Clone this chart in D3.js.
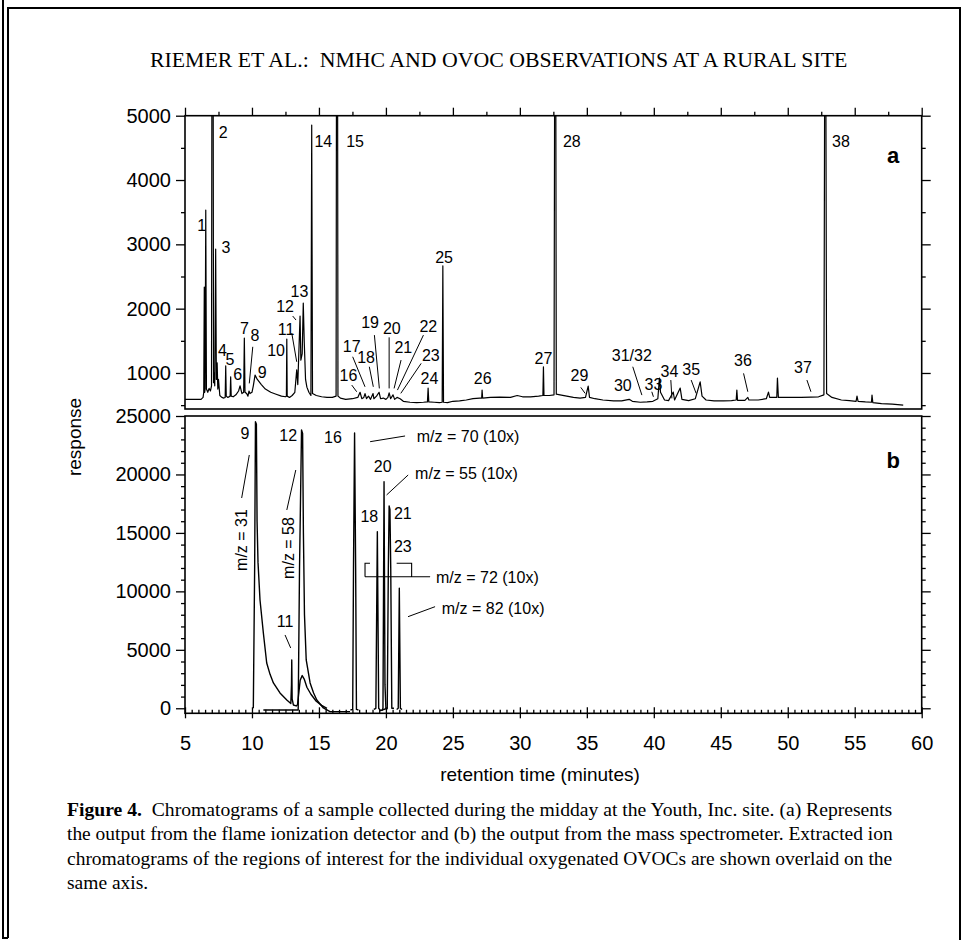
<!DOCTYPE html>
<html>
<head>
<meta charset="utf-8">
<script src="https://cdn.jsdelivr.net/npm/d3@7"></script>
<style>
    body { margin: 0; background: #fff; }
    svg { display: block; }
    .tick text { font-family: "Liberation Sans", Arial, Helvetica, sans-serif; font-size: 20px; fill: #000; }
    .sans { font-family: "Liberation Sans", Arial, Helvetica, sans-serif; fill: #000; }
    .serif { font-family: "Liberation Serif", "Times New Roman", serif; fill: #000; }
</style>
</head>
<body>
<div class="chart"></div>
<script>
// ---- data ----
const xTicks = [5, 10, 15, 20, 25, 30, 35, 40, 45, 50, 55, 60]
const yTicksA = [1000, 2000, 3000, 4000, 5000]
const yTicksB = [0, 5000, 10000, 15000, 20000, 25000]

// (a) flame ionization detector trace: [retention time, response]
const fidTrace = [
    [5.0, 590], [6.2, 590], [6.35, 620], [6.4, 700], [6.44, 2336], [6.47, 700], [6.5, 750], [6.55, 3533], [6.6, 750],
    [6.7, 700], [6.8, 760], [6.9, 720], [6.98, 800], [7.01, 6000], [7.1, 6000], [7.13, 850], [7.18, 1000], [7.22, 800],
    [7.29, 2927], [7.34, 900], [7.4, 1157], [7.45, 750], [7.5, 900], [7.6, 650], [7.75, 620], [7.9, 610], [8.0, 620],
    [8.04, 1110], [8.08, 640], [8.2, 620], [8.37, 640], [8.41, 940], [8.45, 640], [8.6, 630], [8.8, 660], [9.0, 720],
    [9.11, 800], [9.25, 680], [9.38, 700], [9.43, 1543], [9.48, 700], [9.6, 680], [9.7, 640], [9.78, 720], [9.85, 680],
    [10.0, 700], [10.1, 800], [10.23, 967], [10.4, 900], [10.7, 820], [11.0, 750], [11.4, 700], [11.8, 670], [12.2, 640],
    [12.5, 630], [12.57, 640], [12.6, 1527], [12.63, 640], [12.8, 620], [13.0, 650], [13.2, 700], [13.34, 1050],
    [13.42, 820], [13.59, 1885], [13.65, 1200], [13.75, 1300], [13.83, 2087], [13.9, 1500], [14.0, 900], [14.1, 780],
    [14.25, 700], [14.4, 650], [14.46, 4855], [14.52, 680], [14.8, 650], [15.2, 630], [15.6, 620], [16.0, 620],
    [16.28, 640], [16.31, 6000], [16.39, 6000], [16.42, 640], [16.6, 610], [17.0, 590], [17.5, 600], [17.9, 620],
    [18.07, 700], [18.2, 600], [18.35, 620], [18.44, 680], [18.55, 600], [18.7, 640], [18.85, 590], [19.04, 680],
    [19.1, 600], [19.3, 640], [19.49, 700], [19.6, 600], [19.8, 610], [20.0, 590], [20.15, 620], [20.24, 690],
    [20.35, 600], [20.53, 660], [20.65, 590], [20.83, 620], [21.06, 600], [21.3, 560], [21.8, 545], [22.3, 540],
    [22.8, 545], [23.1, 550], [23.15, 765], [23.2, 550], [23.6, 545], [24.0, 540], [24.2, 545], [24.25, 2667],
    [24.3, 545], [24.6, 540], [25.0, 560], [25.5, 565], [26.0, 580], [26.5, 600], [27.0, 610], [27.15, 610],
    [27.18, 734], [27.22, 610], [27.8, 620], [28.5, 625], [29.3, 620], [29.8, 650], [30.2, 630], [30.8, 630],
    [31.4, 640], [31.72, 650], [31.76, 1097], [31.8, 650], [32.2, 650], [32.55, 660], [32.6, 6000], [32.68, 6000],
    [32.72, 670], [33.0, 660], [33.5, 640], [34.0, 620], [34.5, 610], [34.9, 620], [35.1, 796], [35.2, 620],
    [35.6, 600], [36.2, 580], [37.0, 565], [37.6, 565], [38.16, 590], [38.4, 560], [39.0, 545], [39.5, 550],
    [39.93, 560], [40.3, 600], [40.42, 921], [40.5, 700], [40.8, 580], [41.1, 570], [41.45, 703], [41.55, 580],
    [41.97, 765], [42.1, 590], [42.6, 570], [43.1, 600], [43.46, 863], [43.6, 640], [43.9, 580], [44.5, 565],
    [45.2, 565], [45.8, 570], [46.15, 580], [46.2, 734], [46.25, 575], [46.8, 575], [47.02, 620], [47.1, 580],
    [47.8, 580], [48.4, 600], [48.56, 703], [48.65, 620], [49.18, 620], [49.23, 921], [49.3, 620], [50.0, 620],
    [51.0, 620], [51.73, 625], [52.3, 630], [52.7, 660], [52.76, 6000], [52.84, 6000], [52.9, 680], [53.3, 620],
    [54.0, 580], [54.6, 570], [55.1, 560], [55.17, 640], [55.25, 560], [55.8, 550], [56.25, 545], [56.29, 656],
    [56.35, 540], [57.0, 525], [57.8, 515], [58.62, 500]
]

// (b) extracted ion chromatograms
const mz31 = [
    [10.1, 0], [10.2, 12000], [10.26, 24513], [10.33, 24300], [10.38, 16000], [10.45, 12500], [10.6, 9263], [10.85, 6440],
    [11.1, 3875], [11.35, 2900], [11.6, 2164], [12.09, 1309], [12.6, 710], [12.9, 400], [12.95, 2000], [12.97, 4131],
    [13.0, 800], [13.09, 282], [13.3, 200], [13.4, 300], [13.6, 2400], [13.75, 2800], [13.9, 2500], [14.1, 1800],
    [14.4, 1200], [14.8, 600], [15.2, 250], [15.6, 0]
]
const mz58 = [
    [10.85, -145], [13.45, -145], [13.55, 12000], [13.7, 23800], [13.78, 23500], [13.84, 15000], [13.92, 8000],
    [14.05, 4131], [14.34, 2164], [14.6, 1300], [14.84, 710], [15.33, 26], [15.83, -290], [17.32, -290]
]
const mz70 = [[17.35, -145], [17.52, -100], [17.58, 12000], [17.66, 23546], [17.74, 12000], [17.8, -100], [17.95, -145]]
const mz55 = [[19.7, -200], [19.78, 0], [19.86, 19381], [19.93, 2000], [20.0, 0], [20.1, -100]]
const mz72 = [
    [19.1, -100], [19.25, 0], [19.36, 15104], [19.46, 0], [19.6, -200], [20.1, 0], [20.18, 12000], [20.24, 17303],
    [20.3, 17000], [20.36, 12000], [20.44, 0], [20.6, 0]
]
const mz82 = [[20.8, -100], [20.92, 0], [21.0, 10263], [21.08, 0], [21.2, -100]]

// peak numbers: [label, time, response]
const peakLabelsA = [
    ['1', 6.25, 3300], ['2', 7.86, 4750], ['3', 8.06, 2960], ['4', 7.79, 1356], ['5', 8.36, 1216], ['6', 8.94, 983],
    ['7', 9.43, 1703], ['8', 10.23, 1589], ['9', 10.77, 1019], ['10', 11.8, 1356], ['11', 12.54, 1683],
    ['12', 12.47, 2030], ['13', 13.54, 2278], ['14', 15.33, 4596], ['15', 17.7, 4596], ['16', 17.2, 967],
    ['17', 17.45, 1418], ['18', 18.52, 1252], ['19', 18.82, 1796], ['20', 20.44, 1703], ['21', 21.3, 1407],
    ['22', 23.17, 1729], ['23', 23.35, 1278], ['24', 23.25, 916], ['25', 24.34, 2807], ['26', 27.23, 925],
    ['27', 31.76, 1227], ['28', 33.88, 4607], ['29', 34.45, 967], ['30', 37.69, 812], ['31/32', 38.36, 1278],
    ['33', 39.97, 827], ['34', 41.17, 1034], ['35', 42.79, 1056], ['36', 46.65, 1201], ['37', 51.13, 1096],
    ['38', 53.97, 4607]
]
// leader lines: [t1, v1, t2, v2]
const leadersA = [
    [10.06, 1407, 9.8, 838], [12.97, 1621, 13.34, 1174], [13.04, 1885, 13.29, 1823], [17.45, 812, 17.82, 708],
    [17.52, 1252, 18.44, 785], [18.76, 1097, 19.06, 785], [19.14, 1589, 19.51, 760], [20.24, 1554, 20.24, 760],
    [21.13, 1201, 20.61, 760], [22.8, 1589, 20.86, 734], [22.63, 1149, 21.11, 683], [34.55, 776, 34.87, 683],
    [38.43, 1097, 39.11, 656], [39.85, 708, 39.97, 630], [41.27, 890, 41.35, 605], [42.79, 890, 43.16, 683],
    [46.7, 994, 47.02, 708], [51.43, 890, 51.73, 708]
]
const peakLabelsB = [
    ['9', 9.48, 23547], ['12', 12.71, 23376], ['16', 16.05, 23205], ['20', 19.76, 20664], ['18', 18.76, 16388],
    ['21', 21.26, 16678], ['23', 21.26, 13822], ['11', 12.47, 7407]
]
const ionLabelsB = [
    ['m/z = 70 (10x)', 22.3, 23290], ['m/z = 55 (10x)', 22.18, 20125],
    ['m/z = 72 (10x)', 23.74, 11230], ['m/z = 82 (10x)', 24.17, 8579]
]
const ionLabelsVertical = [['m/z = 31', 9.23, 14394], ['m/z = 58', 12.71, 13710]]
const leadersB = [
    [18.82, 22803, 21.43, 23290], [20.05, 18244, 21.66, 19955], [21.65, 7835, 23.67, 8690],
    [9.23, 17987, 9.8, 21665], [12.6, 16960, 13.27, 20381], [12.47, 6269, 12.89, 5157]
]
// m/z = 72 bracket: left edge, left cap end, right cap start, right edge, leader end; cap level, line level
const bracket72 = { t: [18.44, 18.81, 20.8, 21.92, 23.3], v: [12402, 11256] }

const panelTags = [['a', 57.87, 4389], ['b', 57.87, 21237]]

const title = 'RIEMER ET AL.:  NMHC AND OVOC OBSERVATIONS AT A RURAL SITE'
const captionLines = [
    'Chromatograms of a sample collected during the midday at the Youth, Inc. site. (a) Represents',
    'the output from the flame ionization detector and (b) the output from the mass spectrometer. Extracted ion',
    'chromatograms of the regions of interest for the individual oxygenated OVOCs are shown overlaid on the',
    'same axis.'
]

// ---- drawing ----
const W = 965, H = 940
const svg = d3.select('.chart').append('svg').attr('width', W).attr('height', H)
svg.append('rect').attr('width', W).attr('height', H).attr('fill', '#fff')

// page frame
svg.append('path')
    .attr('d', 'M3,0V938H8 M8,938V8H960V940')
    .attr('fill', 'none').attr('stroke', '#000').attr('stroke-width', 2)

const x = d3.scaleLinear().domain([5, 60]).range([185, 921.7])
const yA = d3.scaleLinear().domain([440, 5000]).range([409, 115.7])
const yB = d3.scaleLinear().domain([-430, 25000]).range([713.3, 416])

const defs = svg.append('defs')
defs.append('clipPath').attr('id', 'clipA').append('rect')
    .attr('x', x(5)).attr('y', yA(5000)).attr('width', x(60) - x(5)).attr('height', yA(440) - yA(5000))
defs.append('clipPath').attr('id', 'clipB').append('rect')
    .attr('x', x(5)).attr('y', yB(25000)).attr('width', x(60) - x(5)).attr('height', yB(-430) - yB(25000))

function styleAxis(g) {
    g.select('.domain').remove()
    g.selectAll('line').attr('stroke', '#000').attr('stroke-width', 1.3)
}
function addAxis(transform, gen) {
    svg.append('g').attr('transform', transform).call(gen).call(styleAxis)
}
const minorA = d3.range(500, 5000, 1000)
const minorB = d3.range(1000, 25000, 1000).filter(v => v % 5000 !== 0)
const minorTop = d3.range(7.5, 60, 5)
const minorBottom = d3.range(5, 60.01, 0.5).filter(v => v % 5 !== 0)

// panel a axes
addAxis(`translate(${x(5)},0)`, d3.axisLeft(yA).tickValues(yTicksA).tickSize(9).tickPadding(5).tickFormat(d3.format('d')))
addAxis(`translate(${x(5)},0)`, d3.axisLeft(yA).tickValues(minorA).tickSize(4).tickFormat(''))
addAxis(`translate(${x(60)},0)`, d3.axisRight(yA).tickValues(yTicksA).tickSize(9).tickFormat(''))
addAxis(`translate(${x(60)},0)`, d3.axisRight(yA).tickValues(minorA).tickSize(4).tickFormat(''))
addAxis(`translate(0,${yA(5000)})`, d3.axisTop(x).tickValues(xTicks).tickSize(8).tickFormat(''))
addAxis(`translate(0,${yA(5000)})`, d3.axisTop(x).tickValues(minorTop).tickSize(4).tickFormat(''))

// panel b axes
addAxis(`translate(${x(5)},0)`, d3.axisLeft(yB).tickValues(yTicksB).tickSize(9).tickPadding(5).tickFormat(d3.format('d')))
addAxis(`translate(${x(5)},0)`, d3.axisLeft(yB).tickValues(minorB).tickSize(4).tickFormat(''))
addAxis(`translate(${x(60)},0)`, d3.axisRight(yB).tickValues(yTicksB).tickSize(9).tickFormat(''))
addAxis(`translate(${x(60)},0)`, d3.axisRight(yB).tickValues(minorB).tickSize(4).tickFormat(''))
addAxis(`translate(0,${yB(-430)})`, d3.axisBottom(x).tickValues(xTicks).tickSize(5).tickPadding(18).tickFormat(d3.format('d')))
addAxis(`translate(0,${yB(-430)})`, d3.axisBottom(x).tickValues(xTicks).tickSize(-6).tickFormat(''))
addAxis(`translate(0,${yB(-430)})`, d3.axisBottom(x).tickValues(minorBottom).tickSize(-3.5).tickFormat(''))

// panel frames
svg.append('rect').attr('x', x(5)).attr('y', yA(5000)).attr('width', x(60) - x(5)).attr('height', yA(440) - yA(5000))
    .attr('fill', 'none').attr('stroke', '#000').attr('stroke-width', 1.6)
svg.append('rect').attr('x', x(5)).attr('y', yB(25000)).attr('width', x(60) - x(5)).attr('height', yB(-430) - yB(25000))
    .attr('fill', 'none').attr('stroke', '#000').attr('stroke-width', 1.6)

// traces
const lineA = d3.line().x(d => x(d[0])).y(d => yA(d[1]))
const lineB = d3.line().x(d => x(d[0])).y(d => yB(d[1]))
svg.append('g').attr('clip-path', 'url(#clipA)').append('path')
    .attr('d', lineA(fidTrace)).attr('fill', 'none').attr('stroke', '#000').attr('stroke-width', 1.2)
    .attr('stroke-linejoin', 'round')
const gB = svg.append('g').attr('clip-path', 'url(#clipB)')
gB.selectAll('path').data([mz31, mz58, mz70, mz55, mz72, mz82]).enter().append('path')
    .attr('d', d => lineB(d)).attr('fill', 'none').attr('stroke', '#000').attr('stroke-width', 1.4)
    .attr('stroke-linejoin', 'round')

// annotations panel a
svg.append('g').selectAll('line').data(leadersA).enter().append('line')
    .attr('x1', d => x(d[0])).attr('y1', d => yA(d[1])).attr('x2', d => x(d[2])).attr('y2', d => yA(d[3]))
    .attr('stroke', '#000').attr('stroke-width', 1)
svg.append('g').selectAll('text').data(peakLabelsA).enter().append('text')
    .attr('class', 'sans').attr('font-size', 16).attr('text-anchor', 'middle').attr('dy', '0.36em')
    .attr('x', d => x(d[1])).attr('y', d => yA(d[2])).text(d => d[0])

// annotations panel b
svg.append('g').selectAll('line').data(leadersB).enter().append('line')
    .attr('x1', d => x(d[0])).attr('y1', d => yB(d[1])).attr('x2', d => x(d[2])).attr('y2', d => yB(d[3]))
    .attr('stroke', '#000').attr('stroke-width', 1)
const bt = bracket72.t, bv = bracket72.v
svg.append('path')
    .attr('d', `M${x(bt[0])},${yB(bv[1])}H${x(bt[4])}` +
        `M${x(bt[1])},${yB(bv[0])}H${x(bt[0])}V${yB(bv[1])}` +
        `M${x(bt[2])},${yB(bv[0])}H${x(bt[3])}V${yB(bv[1])}`)
    .attr('fill', 'none').attr('stroke', '#000').attr('stroke-width', 1.1)
svg.append('g').selectAll('text').data(peakLabelsB).enter().append('text')
    .attr('class', 'sans').attr('font-size', 16).attr('text-anchor', 'middle').attr('dy', '0.36em')
    .attr('x', d => x(d[1])).attr('y', d => yB(d[2])).text(d => d[0])
svg.append('g').selectAll('text').data(ionLabelsB).enter().append('text')
    .attr('class', 'sans').attr('font-size', 16).attr('dy', '0.36em')
    .attr('x', d => x(d[1])).attr('y', d => yB(d[2])).text(d => d[0])
svg.append('g').selectAll('text').data(ionLabelsVertical).enter().append('text')
    .attr('class', 'sans').attr('font-size', 16).attr('text-anchor', 'middle').attr('dy', '0.36em')
    .attr('transform', d => `translate(${x(d[1])},${yB(d[2])}) rotate(-90)`).text(d => d[0])

// panel tags
svg.append('text').attr('class', 'sans').attr('font-size', 22).attr('font-weight', 'bold')
    .attr('text-anchor', 'middle').attr('dy', '0.36em')
    .attr('x', x(panelTags[0][1])).attr('y', yA(panelTags[0][2])).text(panelTags[0][0])
svg.append('text').attr('class', 'sans').attr('font-size', 22).attr('font-weight', 'bold')
    .attr('text-anchor', 'middle').attr('dy', '0.36em')
    .attr('x', x(panelTags[1][1])).attr('y', yB(panelTags[1][2])).text(panelTags[1][0])

// axis titles
svg.append('text').attr('class', 'sans').attr('font-size', 19).attr('text-anchor', 'middle')
    .attr('transform', 'translate(81,437) rotate(-90)').text('response')
svg.append('text').attr('class', 'sans').attr('font-size', 19).attr('text-anchor', 'middle')
    .attr('x', 540).attr('y', 781).text('retention time (minutes)')

// stretch a text line to a given width from its left edge
function fitWidth(sel, x0, width) {
    const k = width / sel.node().getComputedTextLength()
    sel.attr('transform', `translate(${x0},0) scale(${k},1) translate(${-x0},0)`)
    return k
}

const titleText = svg.append('text').attr('class', 'serif').attr('font-size', 20)
    .attr('x', 150).attr('y', 67).attr('xml:space', 'preserve').text(title)
fitWidth(titleText, 150, 698)

const capY = [816, 840, 865, 889]
let k = 1
captionLines.forEach((line, i) => {
    const t = svg.append('text').attr('class', 'serif').attr('font-size', 18).attr('x', 67).attr('y', capY[i])
    if (i === 0) {
        t.append('tspan').attr('font-weight', 'bold').text('Figure 4.')
        t.append('tspan').text('  ' + line).attr('xml:space', 'preserve')
    } else {
        t.text(line)
    }
    if (i < 3) k = fitWidth(t, 67, 826)
    else t.attr('transform', `translate(67,0) scale(${k},1) translate(-67,0)`)
})
</script>
</body>
</html>
